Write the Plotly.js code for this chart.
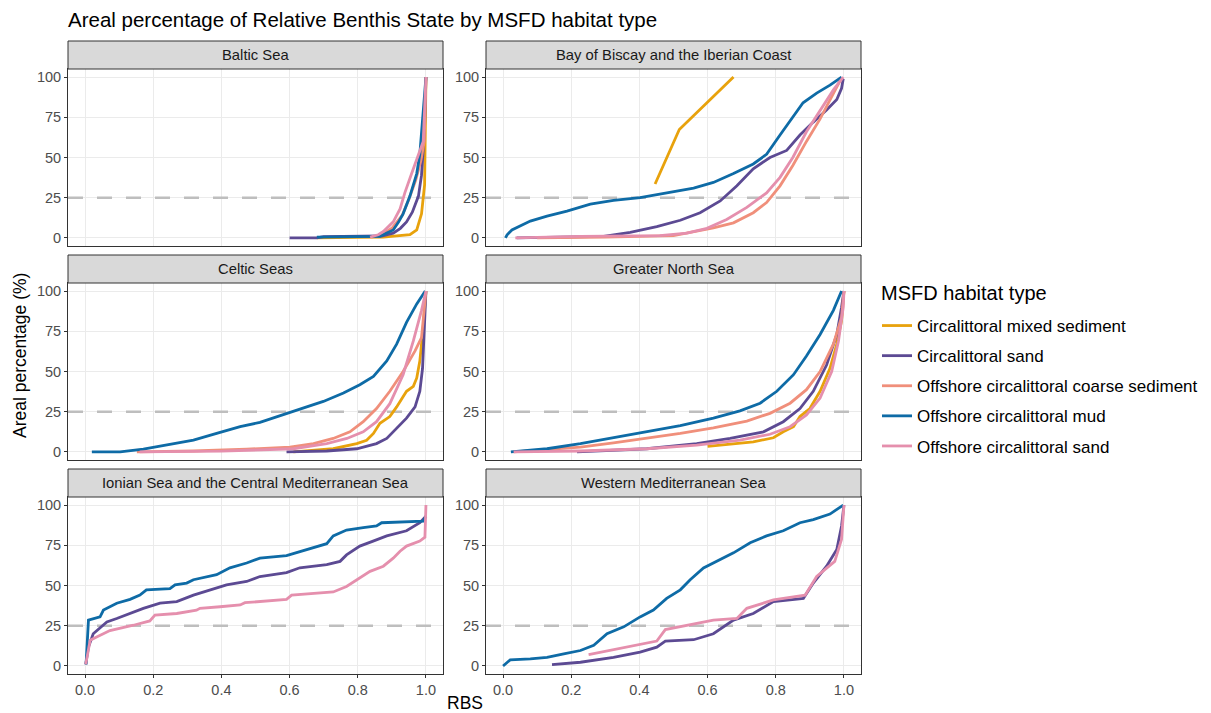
<!DOCTYPE html>
<html>
<head>
<meta charset="utf-8">
<script src="https://cdn.plot.ly/plotly-3.0.1.min.js"></script>
<style>
  html, body { margin: 0; padding: 0; background: #fff; }
  #chart { width: 1211px; height: 713px; }
</style>
</head>
<body>
<div id="chart"></div>
<script>
// ---------- categories ----------
const regions = [
  "Baltic Sea",
  "Bay of Biscay and the Iberian Coast",
  "Celtic Seas",
  "Greater North Sea",
  "Ionian Sea and the Central Mediterranean Sea",
  "Western Mediterranean Sea"
];
const habitats = [
  "Circalittoral mixed sediment",
  "Circalittoral sand",
  "Offshore circalittoral coarse sediment",
  "Offshore circalittoral mud",
  "Offshore circalittoral sand"
];
const legendTitle = "MSFD habitat type";
const habitatColors = ["#E8A20C", "#5C4A93", "#F08F7B", "#0E6BA6", "#E58FAD"];
const xTicks = [0, 0.2, 0.4, 0.6, 0.8, 1.0];
const yTicks = [0, 25, 50, 75, 100];
const xRange = [-0.05, 1.05];
const yRange = [-5, 105];
const refLevel = 25;

// ---------- Baltic Sea ----------
const baltic_mixed_rbs = [0.68, 0.72, 0.80, 0.875, 0.904, 0.93, 0.953, 0.973, 0.987, 0.996, 1.0];
const baltic_mixed_pct = [0, 0, 0.3, 0.5, 1, 1.5, 2, 5, 15, 33, 100];
const baltic_sand_rbs = [0.60, 0.68, 0.70, 0.80, 0.87, 0.904, 0.925, 0.943, 0.96, 0.978, 0.987, 0.992, 0.996, 1.0];
const baltic_sand_pct = [0, 0, 0.8, 0.8, 1.2, 3, 6, 10, 16, 26, 39, 55, 70, 100];
const baltic_coarse_rbs = [0.84, 0.87, 0.90, 0.93, 0.95, 0.97, 0.985, 0.995, 1.0];
const baltic_coarse_pct = [0.5, 2, 6, 14, 24, 36, 48, 60, 100];
const baltic_mud_rbs = [0.68, 0.75, 0.80, 0.865, 0.904, 0.92, 0.933, 0.953, 0.973, 0.982, 0.992, 1.0];
const baltic_mud_pct = [0.5, 0.5, 0.8, 1, 5, 10, 15, 26, 40, 52, 80, 100];
const baltic_osand_rbs = [0.836, 0.86, 0.875, 0.904, 0.924, 0.938, 0.958, 0.982, 0.992, 1.0];
const baltic_osand_pct = [0.5, 2, 4, 10, 18, 28, 40, 55, 60, 100];

// ---------- Bay of Biscay and the Iberian Coast ----------
const biscay_mixed_rbs = [0.446, 0.517, 0.676];
const biscay_mixed_pct = [33.5, 67.4, 100];
const biscay_sand_rbs = [0.04, 0.2, 0.295, 0.373, 0.451, 0.52, 0.578, 0.637, 0.686, 0.734, 0.783, 0.832, 0.871, 0.91, 0.949, 0.979, 0.993, 0.998];
const biscay_sand_pct = [0, 0.5, 1, 3.5, 7, 11, 15.7, 23, 32.4, 43, 50, 54.4, 64, 72, 79.5, 86, 93, 99];
const biscay_coarse_rbs = [0.1, 0.3, 0.5, 0.617, 0.676, 0.734, 0.773, 0.8125, 0.85, 0.89, 0.93, 0.969, 0.993];
const biscay_coarse_pct = [0, 0.5, 1.5, 6.3, 9.4, 15.7, 22, 32.4, 45, 60, 74, 90, 99.5];
const biscay_mud_rbs = [0.007, 0.012, 0.026, 0.08, 0.129, 0.1875, 0.256, 0.324, 0.402, 0.48, 0.559, 0.617, 0.676, 0.734, 0.773, 0.8125, 0.85, 0.88, 0.92, 0.959, 0.993];
const biscay_mud_pct = [0, 2, 5, 10.5, 13.6, 16.7, 21, 23.4, 25, 28, 31, 34.5, 40, 46, 52, 64, 75, 84, 90, 95, 100];
const biscay_osand_rbs = [0.036, 0.227, 0.46, 0.539, 0.598, 0.656, 0.715, 0.773, 0.8125, 0.85, 0.89, 0.93, 0.969, 0.998];
const biscay_osand_pct = [0, 1, 1.5, 3, 6, 11.5, 19, 28, 37.7, 50, 66, 79.5, 92, 100];

// ---------- Celtic Seas ----------
const celtic_mixed_rbs = [0.611, 0.728, 0.797, 0.826, 0.846, 0.865, 0.894, 0.914, 0.943, 0.963, 0.973, 0.982, 0.992, 1.0];
const celtic_mixed_pct = [0, 2, 5.2, 7.3, 11.5, 17.8, 22, 28, 37.7, 40.8, 46, 56.5, 77.4, 100];
const celtic_sand_rbs = [0.591, 0.709, 0.797, 0.855, 0.885, 0.914, 0.943, 0.968, 0.982, 0.99, 0.995, 1.0];
const celtic_sand_pct = [0, 0.6, 2, 5.2, 8.4, 14.6, 21, 28, 37.7, 52, 73, 100];
const celtic_coarse_rbs = [0.152, 0.318, 0.474, 0.601, 0.67, 0.728, 0.777, 0.816, 0.855, 0.894, 0.933, 0.968, 0.987, 1.0];
const celtic_coarse_pct = [0, 0.6, 1.7, 3, 5.2, 8.4, 12.5, 18.8, 27, 37.7, 50, 62.8, 71, 100];
const celtic_mud_rbs = [0.02, 0.103, 0.171, 0.249, 0.318, 0.386, 0.455, 0.513, 0.572, 0.63, 0.699, 0.758, 0.806, 0.846, 0.885, 0.914, 0.943, 0.973, 0.998];
const celtic_mud_pct = [0, 0, 1.7, 4.6, 7.3, 11.5, 15.7, 18.4, 22.4, 26.8, 31.4, 36.6, 41.8, 47, 56.5, 67, 80.5, 92, 100];
const celtic_osand_rbs = [0.16, 0.4, 0.611, 0.709, 0.768, 0.816, 0.855, 0.894, 0.933, 0.963, 0.987, 1.0];
const celtic_osand_pct = [0, 0.5, 2, 5.2, 8.4, 12.5, 18.8, 30, 48, 69, 88, 100];

// ---------- Greater North Sea ----------
const gns_mixed_rbs = [0.6, 0.66, 0.734, 0.793, 0.822, 0.852, 0.871, 0.9, 0.93, 0.959, 0.979, 0.993, 1.0];
const gns_mixed_pct = [3.5, 4.8, 6.3, 8.8, 12.5, 15.7, 22, 27, 37.7, 52, 67, 81.6, 100];
const gns_sand_rbs = [0.217, 0.422, 0.568, 0.666, 0.764, 0.822, 0.871, 0.91, 0.949, 0.979, 0.993, 1.0];
const gns_sand_pct = [0, 2, 5.2, 8.4, 12.5, 18.8, 27, 37.7, 54, 73, 90, 100];
const gns_coarse_rbs = [0.031, 0.227, 0.324, 0.422, 0.52, 0.617, 0.715, 0.783, 0.842, 0.89, 0.93, 0.969, 0.993, 1.0];
const gns_coarse_pct = [0, 3, 5.6, 8.4, 11.5, 15, 19.2, 24, 30.3, 38.7, 50, 67, 83.7, 100];
const gns_mud_rbs = [0.023, 0.129, 0.227, 0.324, 0.422, 0.52, 0.617, 0.695, 0.754, 0.803, 0.852, 0.89, 0.93, 0.969, 0.993];
const gns_mud_pct = [0, 2, 5.2, 8.8, 12.5, 16.3, 21, 25.5, 30.3, 37.7, 48, 59.6, 73, 88, 100];
const gns_osand_rbs = [0.031, 0.227, 0.422, 0.568, 0.695, 0.783, 0.842, 0.89, 0.93, 0.964, 0.984, 0.998, 1.0];
const gns_osand_pct = [0, 0.6, 2, 4.2, 7.3, 11, 15.7, 23, 33.5, 50, 69, 90, 100];

// ---------- Ionian Sea and the Central Mediterranean Sea ----------
const ionian_sand_rbs = [0.002, 0.01, 0.024, 0.064, 0.093, 0.132, 0.171, 0.22, 0.269, 0.318, 0.367, 0.415, 0.474, 0.513, 0.591, 0.63, 0.709, 0.748, 0.767, 0.806, 0.845, 0.885, 0.943, 0.982, 1.0];
const ionian_sand_pct = [1, 11.7, 20, 27.4, 29.5, 32.6, 35.8, 39, 40, 44, 47.3, 50.4, 52.5, 55.6, 58, 61, 63, 65, 69, 74.5, 77.6, 80.8, 84, 89, 93];
const ionian_mud_rbs = [0.003, 0.006, 0.01, 0.044, 0.054, 0.093, 0.132, 0.161, 0.18, 0.249, 0.264, 0.298, 0.318, 0.386, 0.425, 0.474, 0.513, 0.591, 0.65, 0.709, 0.728, 0.767, 0.816, 0.855, 0.87, 0.992, 1.0];
const ionian_mud_pct = [1, 12, 28.5, 30.5, 34.7, 39, 41.4, 44, 47.3, 48, 50.4, 51.5, 53.6, 56.7, 61, 64, 67, 68.6, 72.4, 76, 80.8, 84.5, 86, 87, 89, 90, 93];
const ionian_osand_rbs = [0.002, 0.015, 0.034, 0.073, 0.142, 0.19, 0.205, 0.269, 0.327, 0.337, 0.396, 0.455, 0.469, 0.591, 0.606, 0.728, 0.767, 0.806, 0.836, 0.875, 0.904, 0.924, 0.943, 0.982, 0.997, 1.0];
const ionian_osand_pct = [1, 16, 18, 22, 25.3, 28, 31.6, 32.6, 34.7, 35.8, 36.8, 37.9, 39.3, 41.4, 44, 46, 49.4, 54.6, 58.8, 62, 67, 71.3, 74.5, 77.6, 80, 100];

// ---------- Western Mediterranean Sea ----------
const wmed_sand_rbs = [0.1436, 0.227, 0.324, 0.402, 0.451, 0.476, 0.559, 0.617, 0.676, 0.734, 0.793, 0.881, 0.91, 0.949, 0.979, 0.993, 1.0];
const wmed_sand_pct = [0.8, 2.3, 5.4, 8.6, 11.7, 15.5, 16.3, 20, 28.5, 32.6, 40, 42, 51.5, 62, 72.4, 87, 100];
const wmed_mud_rbs = [0.0, 0.021, 0.08, 0.129, 0.178, 0.227, 0.266, 0.305, 0.354, 0.402, 0.441, 0.48, 0.52, 0.549, 0.588, 0.627, 0.676, 0.725, 0.773, 0.822, 0.871, 0.91, 0.959, 0.998];
const wmed_mud_pct = [0, 3.8, 4.4, 5.4, 7.5, 9.6, 12.8, 20, 24.3, 30.5, 34.7, 42, 47.3, 53.6, 60.9, 65, 70.3, 76.6, 80.8, 84, 89, 91, 94.4, 100];
const wmed_osand_rbs = [0.251, 0.451, 0.476, 0.617, 0.686, 0.715, 0.793, 0.886, 0.92, 0.949, 0.973, 0.993, 1.0];
const wmed_osand_pct = [7.1, 15.5, 22.6, 28.5, 29.5, 35.8, 41, 44, 55.6, 61, 65, 78.7, 100];

// series per panel, in habitat order (null = habitat absent)
const panelSeries = [
  [[baltic_mixed_rbs, baltic_mixed_pct], [baltic_sand_rbs, baltic_sand_pct], [baltic_coarse_rbs, baltic_coarse_pct], [baltic_mud_rbs, baltic_mud_pct], [baltic_osand_rbs, baltic_osand_pct]],
  [[biscay_mixed_rbs, biscay_mixed_pct], [biscay_sand_rbs, biscay_sand_pct], [biscay_coarse_rbs, biscay_coarse_pct], [biscay_mud_rbs, biscay_mud_pct], [biscay_osand_rbs, biscay_osand_pct]],
  [[celtic_mixed_rbs, celtic_mixed_pct], [celtic_sand_rbs, celtic_sand_pct], [celtic_coarse_rbs, celtic_coarse_pct], [celtic_mud_rbs, celtic_mud_pct], [celtic_osand_rbs, celtic_osand_pct]],
  [[gns_mixed_rbs, gns_mixed_pct], [gns_sand_rbs, gns_sand_pct], [gns_coarse_rbs, gns_coarse_pct], [gns_mud_rbs, gns_mud_pct], [gns_osand_rbs, gns_osand_pct]],
  [null, [ionian_sand_rbs, ionian_sand_pct], null, [ionian_mud_rbs, ionian_mud_pct], [ionian_osand_rbs, ionian_osand_pct]],
  [null, [wmed_sand_rbs, wmed_sand_pct], null, [wmed_mud_rbs, wmed_mud_pct], [wmed_osand_rbs, wmed_osand_pct]]
];

// ---------- layout geometry (pixels -> paper) ----------
const W = 1211, H = 713;
const px = v => v / W;
const py = v => 1 - v / H;
const colX = [[68, 443], [486, 861]];
const rowY = [[69, 246], [283, 460], [497, 674]];   // plot area top/bottom
const stripH = 28;

const FONT = "Liberation Sans, Arial, Helvetica, sans-serif";

const traces = [];
// dashed 25% reference line in every panel (drawn first, under the curves)
regions.forEach((name, p) => {
  const ax = p === 0 ? "" : String(p + 1);
  traces.push({
    type: "scatter", mode: "lines",
    x: xRange, y: [refLevel, refLevel],
    xaxis: "x" + ax, yaxis: "y" + ax,
    showlegend: false, hoverinfo: "skip",
    line: { color: "#BEBEBE", width: 2.7, dash: "15px,14px" }
  });
});
const shownLegend = {};
panelSeries.forEach((series, p) => {
  const ax = p === 0 ? "" : String(p + 1);
  series.forEach((s, h) => {
    if (!s) return;
    const show = !shownLegend[h];
    shownLegend[h] = true;
    traces.push({
      type: "scatter", mode: "lines",
      x: s[0], y: s[1],
      xaxis: "x" + ax, yaxis: "y" + ax,
      name: habitats[h], legendgroup: habitats[h], showlegend: show,
      legendrank: h + 1,
      line: { color: habitatColors[h], width: 2.8 },
      hoverinfo: "skip"
    });
  });
});

const layout = {
  width: W, height: H,
  margin: { l: 0, r: 0, t: 0, b: 0 },
  paper_bgcolor: "#ffffff", plot_bgcolor: "#ffffff",
  font: { family: FONT, color: "#000000" },
  title: {
    text: "Areal percentage of Relative Benthis State by MSFD habitat type",
    x: px(68), xanchor: "left", xref: "paper",
    y: py(20), yanchor: "middle", yref: "paper",
    font: { size: 20.5, family: FONT, color: "#000000" }
  },
  showlegend: true,
  legend: {
    x: px(877), xanchor: "left", y: py(308), yanchor: "top",
    traceorder: "grouped", tracegroupgap: 5,
    font: { size: 17, family: FONT, color: "#000000" },
    bgcolor: "rgba(0,0,0,0)", borderwidth: 0
  },
  shapes: [],
  annotations: []
};

regions.forEach((name, p) => {
  const r = Math.floor(p / 2), c = p % 2;
  const ax = p === 0 ? "" : String(p + 1);
  const bottom = r === 2;
  layout["xaxis" + ax] = {
    domain: [px(colX[c][0]), px(colX[c][1])],
    anchor: "y" + ax,
    range: xRange,
    tickvals: xTicks, tickformat: ".1f",
    showticklabels: bottom,
    ticks: bottom ? "outside" : "", ticklen: 3, tickwidth: 1, tickcolor: "#333333",
    tickfont: { size: 14.5, color: "#4D4D4D", family: FONT },
    showgrid: true, gridcolor: "#EBEBEB", gridwidth: 1,
    zeroline: false,
    showline: true, mirror: true, linecolor: "#333333", linewidth: 1
  };
  layout["yaxis" + ax] = {
    domain: [py(rowY[r][1]), py(rowY[r][0])],
    anchor: "x" + ax,
    range: yRange,
    tickvals: yTicks,
    ticks: "outside", ticklen: 3, tickwidth: 1, tickcolor: "#333333",
    tickfont: { size: 14.5, color: "#4D4D4D", family: FONT },
    showgrid: true, gridcolor: "#EBEBEB", gridwidth: 1,
    zeroline: false,
    showline: true, mirror: true, linecolor: "#333333", linewidth: 1
  };
  // strip
  layout.shapes.push({
    type: "rect", layer: "above",
    xref: "paper", yref: "paper",
    x0: px(colX[c][0]), x1: px(colX[c][1]),
    y0: py(rowY[r][0]), y1: py(rowY[r][0] - stripH),
    fillcolor: "#D9D9D9", line: { color: "#333333", width: 1 }
  });
  layout.annotations.push({
    text: name, showarrow: false,
    xref: "paper", yref: "paper",
    x: px((colX[c][0] + colX[c][1]) / 2), y: py(rowY[r][0] - stripH / 2),
    xanchor: "center", yanchor: "middle",
    font: { size: 14.8, color: "#1A1A1A", family: FONT }
  });
});

// legend title
layout.annotations.push({
  text: legendTitle, showarrow: false, xref: "paper", yref: "paper",
  x: px(879), y: py(293), xanchor: "left", yanchor: "middle",
  font: { size: 20, color: "#000000", family: FONT }
});
// axis titles
layout.annotations.push({
  text: "RBS", showarrow: false, xref: "paper", yref: "paper",
  x: px(465), y: py(703), xanchor: "center", yanchor: "middle",
  font: { size: 17.5, color: "#000000", family: FONT }
});
layout.annotations.push({
  text: "Areal percentage (%)", showarrow: false, xref: "paper", yref: "paper",
  x: px(20), y: py(356), xanchor: "center", yanchor: "middle", textangle: -90,
  font: { size: 17.5, color: "#000000", family: FONT }
});

Plotly.newPlot("chart", traces, layout, { displayModeBar: false, staticPlot: true });
</script>
</body>
</html>
